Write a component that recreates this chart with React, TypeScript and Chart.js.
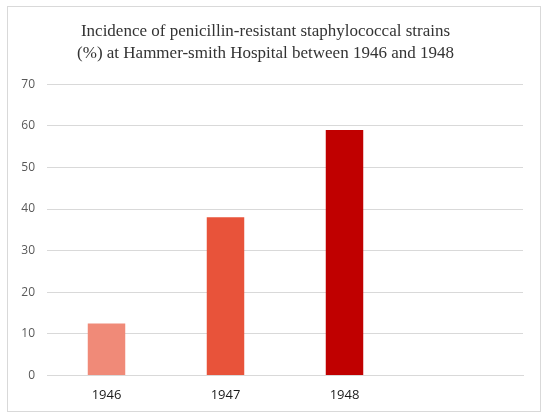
import React, { useEffect, useRef } from "react";
import { Chart, registerables } from "chart.js";

Chart.register(...registerables);

const titleLines = [
  "Incidence of penicillin-resistant staphylococcal strains",
  "(%) at Hammer-smith Hospital between 1946 and 1948",
];
const years = ["1946", "1947", "1948", ""];
const incidence = [12.5, 38, 59, null];
const barColors = ["#F08A78", "#E8533A", "#C00000", "#C00000"];
const yMin = 0;
const yMax = 70;
const yStep = 10;

export default function App() {
  const ref = useRef<HTMLCanvasElement | null>(null);

  useEffect(() => {
    if (!ref.current) return;
    const chart = new Chart(ref.current, {
      type: "bar",
      data: {
        labels: years,
        datasets: [
          {
            data: incidence,
            backgroundColor: barColors,
            borderWidth: 0,
            barPercentage: 0.315,
            categoryPercentage: 1,
          },
        ],
      },
      options: {
        animation: false,
        responsive: false,
        maintainAspectRatio: false,
        layout: { padding: { left: 0, right: 17, top: 0, bottom: 0 } },
        plugins: {
          legend: { display: false },
          tooltip: { enabled: false },
          title: {
            display: true,
            text: titleLines,
            color: "#333333",
            font: { family: "'Liberation Serif', serif", size: 17, weight: "normal", lineHeight: 1.3 },
            padding: { top: 13, bottom: 20 },
          },
        },
        scales: {
          x: {
            afterFit: (scale: any) => {
              scale.height = 35.5;
            },
            grid: { display: false, drawTicks: false },
            border: { display: true, color: "#d9d9d9", width: 1 },
            ticks: {
              color: "#1a1a1a",
              padding: 12,
              font: { family: "'Open Sans', sans-serif", size: 13 },
            },
          },
          y: {
            min: yMin,
            max: yMax,
            afterFit: (scale: any) => {
              scale.width = 39;
            },
            grid: { color: "#d9d9d9", lineWidth: 1, drawTicks: false },
            border: { display: false },
            ticks: {
              stepSize: yStep,
              color: "#595959",
              padding: 12,
              font: { family: "'Open Sans', sans-serif", size: 12 },
            },
          },
        },
      },
    });
    return () => chart.destroy();
  }, []);

  return (
    <div
      style={{
        position: "absolute",
        left: 7,
        top: 6,
        width: 534,
        height: 406,
        border: "1px solid #d9d9d9",
        boxSizing: "border-box",
        background: "#fff",
      }}
    >
      <canvas ref={ref} width={532} height={404} style={{ display: "block" }} />
    </div>
  );
}
